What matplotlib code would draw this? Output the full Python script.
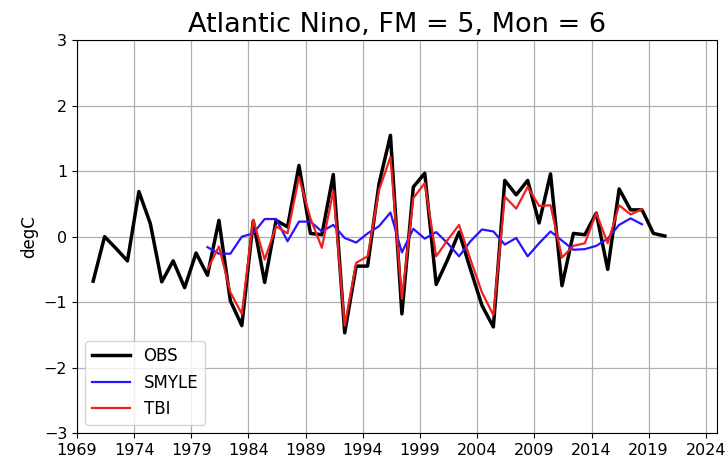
import matplotlib
matplotlib.use('Agg')
import matplotlib.pyplot as plt
import numpy as np

fm = 5
mon = 6

obsYears = np.arange(1970, 2021)
obs = [-0.68, 0.0, -0.18, -0.37, 0.69, 0.2, -0.69, -0.37, -0.78, -0.25,
       -0.59, 0.25, -0.98, -1.36, 0.24, -0.70, 0.25, 0.15, 1.09, 0.05,
       0.03, 0.95, -1.47, -0.45, -0.45, 0.81, 1.55, -1.18, 0.76, 0.97,
       -0.73, -0.35, 0.07, -0.5, -1.05, -1.38, 0.86, 0.64, 0.86, 0.21,
       0.96, -0.75, 0.05, 0.03, 0.36, -0.5, 0.73, 0.41, 0.41, 0.05, 0.01]

fcstYears = np.arange(1980, 2019)
smyle = [-0.16, -0.26, -0.26, 0.0, 0.05, 0.27, 0.27, -0.07, 0.23, 0.23,
         0.08, 0.18, -0.02, -0.09, 0.05, 0.16, 0.37, -0.24, 0.12, -0.03,
         0.07, -0.1, -0.3, -0.07, 0.11, 0.08, -0.12, -0.02, -0.3, -0.1,
         0.08, -0.06, -0.2, -0.19, -0.14, -0.03, 0.18, 0.28, 0.19]
tbi = [-0.5, -0.15, -0.85, -1.18, 0.26, -0.35, 0.16, 0.05, 0.91, 0.28,
       -0.17, 0.7, -1.36, -0.4, -0.3, 0.71, 1.22, -0.95, 0.59, 0.82,
       -0.3, -0.05, 0.18, -0.35, -0.85, -1.2, 0.61, 0.43, 0.76, 0.47,
       0.48, -0.32, -0.14, -0.1, 0.36, -0.1, 0.48, 0.34, 0.42]

xTicks = np.arange(1969, 2025, 5)

# monthly offset inside the year
offset = (mon - 1) / 12.0

fig = plt.figure(figsize=(7.26, 4.65), dpi=100)
ax = fig.add_axes([0.106, 0.069, 0.882, 0.844])

ax.plot(obsYears + offset, obs, color='black', linewidth=2.5, label='OBS')
ax.plot(fcstYears + offset, smyle, color='#2a14ff', linewidth=1.6, label='SMYLE')
ax.plot(fcstYears + offset, tbi, color='#f0201e', linewidth=1.6, label='TBI')

ax.set_xlim(1969, 2025)
ax.set_ylim(-3, 3)
ax.set_xticks(xTicks)
ax.set_yticks(np.arange(-3, 4, 1))
ax.tick_params(labelsize=11.5)
ax.grid(True, color='#b0b0b0', linewidth=0.9)
ax.set_ylabel('degC', fontsize=12)
ax.set_title('Atlantic Nino, FM = ' + str(fm) + ', Mon = ' + str(mon), fontsize=19.5)
ax.legend(loc='lower left', fontsize=12, handlelength=2.3)

fig.savefig('out.png', dpi=100)
